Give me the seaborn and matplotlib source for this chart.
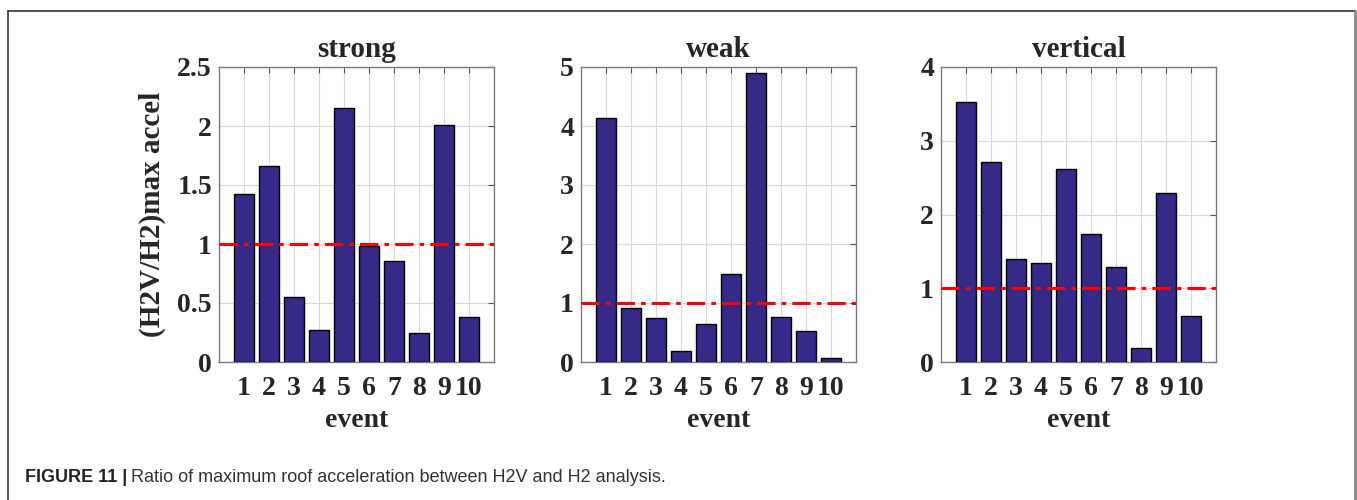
import matplotlib
matplotlib.use("Agg")
import matplotlib.pyplot as plt
from matplotlib.lines import Line2D
import seaborn as sns
import pandas as pd

events = [1, 2, 3, 4, 5, 6, 7, 8, 9, 10]
strong = [1.42, 1.66, 0.55, 0.27, 2.15, 0.98, 0.86, 0.25, 2.01, 0.38]
weak = [4.13, 0.91, 0.74, 0.19, 0.64, 1.49, 4.90, 0.76, 0.52, 0.07]
vertical = [3.53, 2.71, 1.39, 1.34, 2.62, 1.74, 1.29, 0.19, 2.29, 0.62]

panel_titles = ["strong", "weak", "vertical"]
panel_values = [strong, weak, vertical]
panel_ylims = [2.5, 5, 4]
panel_yticks = [
    [0, 0.5, 1, 1.5, 2, 2.5],
    [0, 1, 2, 3, 4, 5],
    [0, 1, 2, 3, 4],
]
panel_yticklabels = [
    ["0", "0.5", "1", "1.5", "2", "2.5"],
    ["0", "1", "2", "3", "4", "5"],
    ["0", "1", "2", "3", "4"],
]
reference_ratio = 1.0

bar_color = "#352a87"
serif = ["Liberation Serif", "DejaVu Serif"]
fs_tick = 20
fs_title = 21
fs_label = 20
fs_ylabel = 21

sns.set_style("white")
plt.rcParams["font.family"] = serif
plt.rcParams["font.weight"] = "bold"

W, H = 1357, 500
fig = plt.figure(figsize=(W / 100, H / 100), dpi=100)

lefts = [219, 581, 941]
ax_w, ax_top, ax_bot = 275, 67, 362

for i, (left, title, vals, ymax, yt, ytl) in enumerate(
    zip(lefts, panel_titles, panel_values, panel_ylims, panel_yticks, panel_yticklabels)
):
    ax = fig.add_axes([left / W, 1 - ax_bot / H, ax_w / W, (ax_bot - ax_top) / H])
    df = pd.DataFrame({"event": events, "ratio": vals})
    sns.barplot(
        data=df, x="event", y="ratio", native_scale=True, width=0.82,
        color=bar_color, saturation=1, edgecolor="black", linewidth=1.0,
        ax=ax, zorder=3,
    )
    ax.axhline(reference_ratio, color="#ff0000", linestyle=(0, (6, 2, 1.5, 2)),
               linewidth=2.2, zorder=4)
    ax.set_xlim(0, 11)
    ax.set_ylim(0, ymax)
    ax.set_xticks(events)
    ax.set_xticklabels([str(e) for e in events], fontsize=fs_tick, fontweight="bold")
    ax.set_yticks(yt)
    ax.set_yticklabels(ytl, fontsize=fs_tick, fontweight="bold")
    ax.grid(True, color="#d8d8d8", linewidth=0.8, zorder=0)
    ax.set_axisbelow(True)
    ax.tick_params(axis="both", direction="in", length=4, color="#555555",
                   top=True, right=True, width=0.8)
    ax.tick_params(axis="x", pad=10)
    ax.tick_params(axis="y", pad=5)
    for sp in ax.spines.values():
        sp.set_visible(True)
        sp.set_color("#7a7a7a")
        sp.set_linewidth(1.0)
    ax.set_title(title, fontsize=fs_title, fontweight="bold", pad=7)
    ax.set_xlabel("event", fontsize=fs_label, fontweight="bold", labelpad=5)
    if i == 0:
        ax.set_ylabel("(H2V/H2)max accel", fontsize=fs_ylabel, fontweight="bold", labelpad=8)
    else:
        ax.set_ylabel("")

# outer frame of the figure panel
frame_kw = dict(transform=fig.transFigure, linewidth=1.2)
fig.add_artist(Line2D([8 / W, 1355 / W], [1 - 11 / H, 1 - 11 / H], color="#333333", **frame_kw))
fig.add_artist(Line2D([8 / W, 8 / W], [0, 1 - 11 / H], color="#333333", **frame_kw))
fig.add_artist(Line2D([1355 / W, 1355 / W], [0, 1 - 11 / H], color="#888888",
                      transform=fig.transFigure, linewidth=2))

# caption
cap_y = 1 - 478 / H
cap_fs = 13
t1 = fig.text(25 / W, cap_y, "FIGURE 11 |", fontsize=cap_fs, fontweight="bold",
              family=["Liberation Sans", "DejaVu Sans"], va="center", color="#222222")
fig.canvas.draw()
bb = t1.get_window_extent()
fig.text(bb.x1 / W + 4 / W, cap_y,
         "Ratio of maximum roof acceleration between H2V and H2 analysis.",
         fontsize=cap_fs, fontweight="normal", family=["Liberation Sans", "DejaVu Sans"],
         va="center", color="#333333")

fig.savefig("out.png", dpi=100)
